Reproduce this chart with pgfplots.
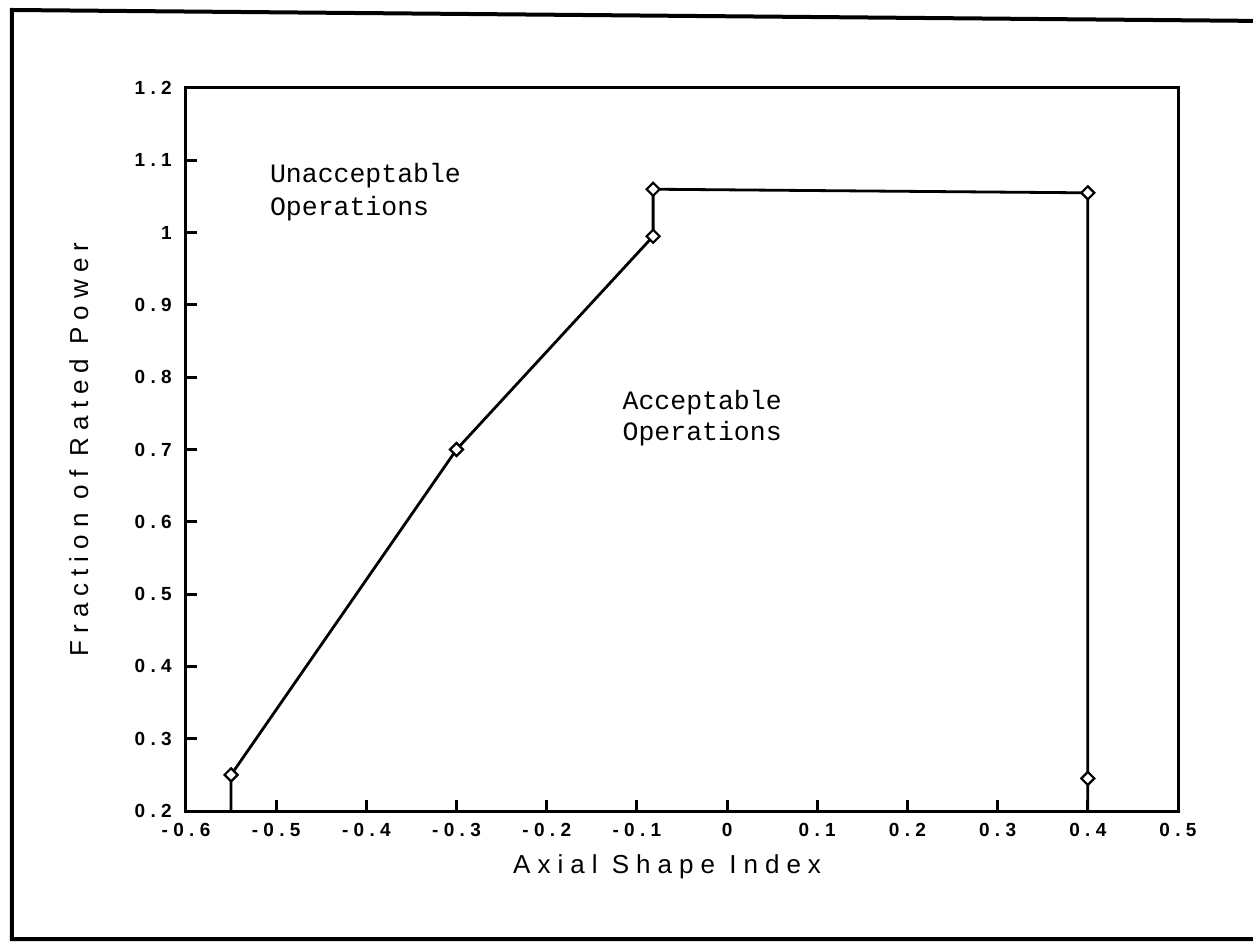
\documentclass[border=0pt]{standalone}
\usepackage{fontspec}
\setmainfont{Liberation Sans}
\newfontfamily\tickfont[LetterSpace=28]{Liberation Sans Bold}
\newfontfamily\labfont[LetterSpace=27]{Liberation Sans}
\newfontfamily\annfont{Liberation Mono}
\usepackage{pgfplots}
\pgfplotsset{compat=1.18}

\begin{document}
\begin{tikzpicture}
\begin{axis}[
  at={(0pt,0pt)}, anchor=south west,
  scale only axis, width=992pt, height=723pt,
  xmin=-0.6, xmax=0.5, ymin=0.2, ymax=1.2,
  xtick={-0.6,-0.5,-0.4,-0.3,-0.2,-0.1,0,0.1,0.2,0.3,0.4,0.5},
  xticklabels={-0.6,-0.5,-0.4,-0.3,-0.2,-0.1,0,0.1,0.2,0.3,0.4,0.5},
  ytick={0.2,0.3,0.4,0.5,0.6,0.7,0.8,0.9,1,1.1,1.2},
  yticklabels={0.2,0.3,0.4,0.5,0.6,0.7,0.8,0.9,1,1.1,1.2},
  tick pos=left, tick align=inside, major tick length=11pt,
  axis line style={line width=3pt},
  every tick/.style={black, line width=3pt},
  tick label style={font=\tickfont\fontsize{19}{21}\selectfont, inner sep=0pt},
  xticklabel style={anchor=north, yshift=-12pt},
  yticklabel style={anchor=east, xshift=-14pt},
  xlabel={Axial Shape Index},
  ylabel={Fraction of Rated Power},
  label style={font=\labfont\fontsize{26}{30}\selectfont},
  xlabel style={at={(axis description cs:0.485,-0.0858)}, anchor=base},
  ylabel style={at={(axis description cs:-0.108,0.5)}, anchor=center},
  clip=false,
]
\addplot[black, line width=2.8pt, mark=square*, mark size=4.6pt,
  mark indices={2,3,4,5,6,7},
  mark options={rotate=45, fill=white, draw=black, line width=2.2pt, solid}]
  coordinates {(-0.55,0.2) (-0.55,0.25) (-0.3,0.7) (-0.082,0.995) (-0.082,1.06) (0.4,1.055) (0.4,0.245) (0.4,0.2)};
\node[anchor=base west, font=\annfont\fontsize{26.5}{30}\selectfont, inner sep=0pt] at (axis cs:-0.507,1.069) {Unacceptable};
\node[anchor=base west, font=\annfont\fontsize{26.5}{30}\selectfont, inner sep=0pt] at (axis cs:-0.507,1.024) {Operations};
\node[anchor=base west, font=\annfont\fontsize{26.5}{30}\selectfont, inner sep=0pt] at (axis cs:-0.116,0.756) {Acceptable};
\node[anchor=base west, font=\annfont\fontsize{26.5}{30}\selectfont, inner sep=0pt] at (axis cs:-0.116,0.713) {Operations};
\end{axis}
\draw[line width=4pt] (1080pt,790pt) -- (-174pt,801pt) -- (-174pt,-128pt) -- (1080pt,-128pt);
\pgfresetboundingbox
\useasboundingbox (-186pt,-132pt) rectangle (1067pt,811pt);
\end{tikzpicture}
\end{document}
